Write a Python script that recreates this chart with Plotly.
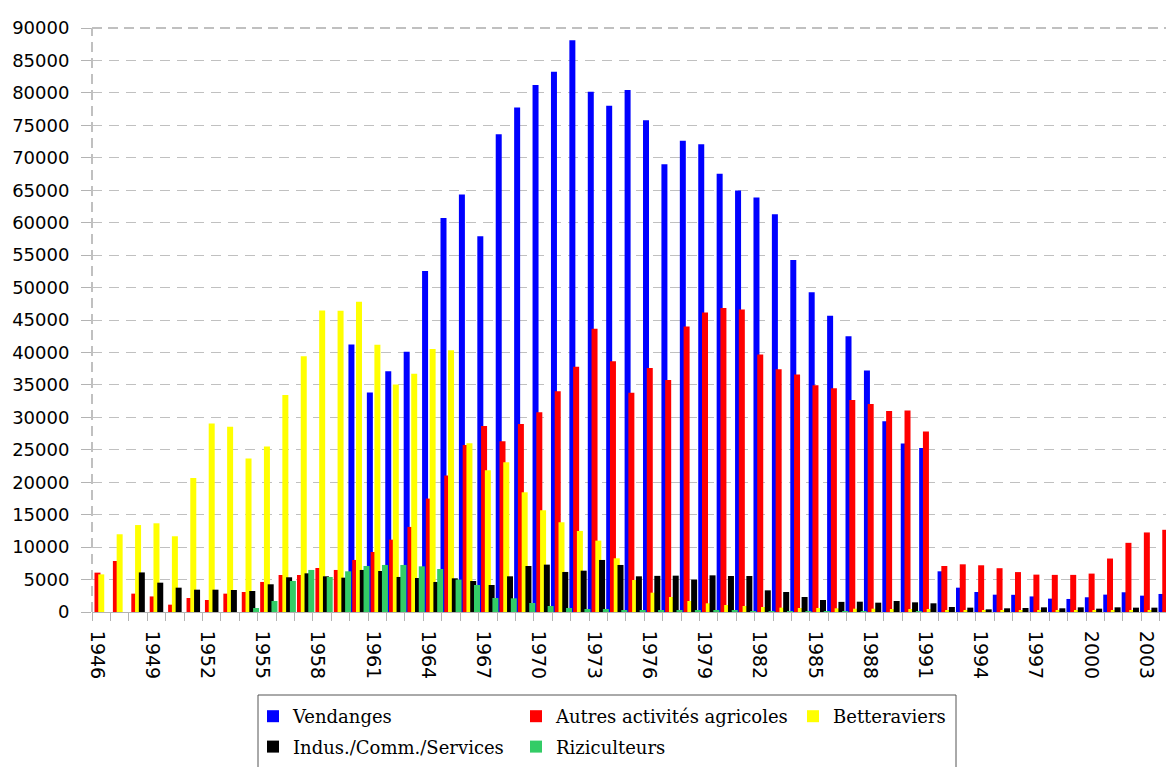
import plotly.graph_objects as go

years = list(range(1946, 2005))

vendanges = [0]*14 + [
    41220, 33820, 37110, 40090, 52550, 60730, 64330, 57900, 73640, 77760,
    81200, 83260, 88100, 80170, 78010, 80430, 75800, 69010, 72610, 72100,
    67520, 64950, 63870, 61300, 54250, 49260, 45660, 42510, 37210, 29400,
    25960, 25290, 6270, 3750, 3080, 2670, 2650, 2400, 2060, 2010,
    2270, 2680, 3040, 2520, 2780]

autres = [
    6065, 7860, 2830, 2400, 1130, 2160, 1850, 2830, 3080, 4630,
    5700, 5700, 6780, 6480, 8020, 9250, 11150, 13110, 17480, 21020,
    25750, 28680, 26320, 28990, 30790, 34030, 37780, 43640, 38650, 33770,
    37620, 35770, 44000, 46160, 46860, 46630, 39680, 37420, 36600, 34950,
    34490, 32690, 32070, 30990, 31050, 27810, 7090, 7350, 7200, 6750,
    6150, 5760, 5720, 5720, 5920, 8240, 10660, 12260, 12670]

betteraviers = [
    5800, 11980, 13400, 13670, 11670, 20660, 29040, 28530, 23640, 25500,
    33460, 39420, 46470, 46410, 47800, 41170, 35050, 36700, 40550, 40350,
    26010, 21850, 23080, 18450, 15680, 13830, 12490, 11000, 8280, 4930,
    2980, 2310, 1700, 1340, 1080, 925, 770, 670, 620, 620,
    570, 510, 510, 460, 460, 460, 260, 260, 260, 200,
    200, 250, 240, 230, 230, 220, 220, 210, 200]

indus = [
    0, 0, 6100, 4520, 3750, 3440, 3440, 3390, 3240, 4270,
    5350, 5960, 5500, 5290, 6480, 6320, 5400, 5240, 4630, 5190,
    4780, 4160, 5500, 7090, 7300, 6170, 6370, 8020, 7250, 5500,
    5570, 5600, 4990, 5650, 5550, 5550, 3340, 3080, 2310, 1850,
    1560, 1590, 1440, 1700, 1490, 1340, 770, 670, 410, 570,
    620, 720, 570, 720, 515, 720, 670, 670, 600]

riziculteurs = [
    0, 0, 0, 0, 0, 0, 0, 0, 620, 1700,
    4780, 6480, 5400, 6270, 7090, 7250, 7250, 7040, 6630, 4990,
    4160, 2160, 2110, 1390, 925, 620, 460, 460, 310, 310,
    260, 260, 260, 260, 260, 150, 100, 150, 150, 150,
    120, 150, 0, 0, 150, 0, 0, 0, 0, 0,
    0, 0, 0, 0, 0, 0, 0, 0, 0]

label_years = list(range(1946, 2005, 3))
y_ticks = list(range(0, 90001, 5000))

series = [
    ("Vendanges", vendanges, "#0000ff", "legend"),
    ("Autres activités agricoles", autres, "#ff0000", "legend2"),
    ("Betteraviers", betteraviers, "#ffff00", "legend3"),
    ("Indus./Comm./Services", indus, "#000000", "legend"),
    ("Riziculteurs", riziculteurs, "#33cc66", "legend2"),
]

W, H = 1166, 767
ML, MR, MT, MB = 92, 0, 28, 155
PW = W - ML - MR
PH = H - MT - MB
px_per_unit = 18.41
bar_w = 6.0 / px_per_unit
step = 3.77 / px_per_unit
first_off = -10.5 / px_per_unit
label_shift = -4.5 / px_per_unit

fig = go.Figure()
for i, (name, vals, col, lg) in enumerate(series):
    fig.add_trace(go.Bar(
        x=years, y=vals, name=name,
        marker=dict(color=col, line=dict(width=0)),
        offset=first_off + i * step, width=bar_w,
        legend=lg, legendgroup=name,
    ))

x_end = 1945.5 + PW / px_per_unit

grid_col = "#c0c0c0"
axis_font = dict(family="DejaVu Sans", size=18, color="#000000")
xlab_font = dict(family="DejaVu Sans", size=19, color="#000000")
leg_font = dict(family="DejaVu Serif", size=18, color="#000000")

def pxx(px):
    return (px - ML) / PW

def pyy(py):
    return (H - MB - py) / PH

leg_common = dict(xref="paper", yref="paper",
                  xanchor="left", yanchor="top", orientation="v",
                  font=leg_font, bgcolor="rgba(0,0,0,0)", borderwidth=0,
                  tracegroupgap=4)

fig.update_layout(
    width=W, height=H,
    margin=dict(l=ML, r=MR, t=MT, b=MB, pad=0, autoexpand=False),
    paper_bgcolor="white", plot_bgcolor="white",
    barmode="overlay",
    font=axis_font,
    xaxis=dict(
        range=[1945.5, x_end],
        tickmode="array",
        tickvals=[y + label_shift for y in label_years],
        ticktext=[str(y) for y in label_years],
        tickangle=90,
        ticks="outside", ticklen=8, tickcolor="rgba(0,0,0,0)",
        ticklabelstandoff=6,
        showgrid=False, zeroline=False,
        showline=True, linecolor="#b3b3b3", linewidth=1,
        tickfont=xlab_font,
        minor=dict(tickmode="linear", tick0=1945.5, dtick=1, ticks="outside",
                   ticklen=8, tickcolor="#b3b3b3", tickwidth=1,
                   showgrid=False),
    ),
    yaxis=dict(
        range=[0, 90000],
        tickmode="array", tickvals=y_ticks,
        ticktext=[str(v) for v in y_ticks],
        showgrid=True, gridcolor=grid_col, gridwidth=1, griddash="10px,7px",
        zeroline=False, showline=False,
        ticks="outside", ticklen=10, tickcolor="#b3b3b3",
        ticklabelstandoff=8,
        tickfont=axis_font,
    ),
    legend=dict(x=pxx(253), y=pyy(698), **leg_common),
    legend2=dict(x=pxx(516), y=pyy(698), **leg_common),
    legend3=dict(x=pxx(793), y=pyy(698), **leg_common),
    showlegend=True,
)

shapes = [
    dict(type="rect", xref="paper", yref="paper",
         x0=pxx(258), x1=pxx(956), y0=pyy(695), y1=pyy(780),
         line=dict(color="#555555", width=1), fillcolor="rgba(0,0,0,0)"),
    dict(type="line", xref="paper", yref="paper", x0=0, x1=1, y0=1, y1=1,
         line=dict(color=grid_col, width=2, dash="10px,6px")),
    dict(type="line", xref="paper", yref="paper", x0=0, x1=0, y0=0, y1=1,
         line=dict(color=grid_col, width=2, dash="10px,6px")),
]
fig.update_layout(shapes=shapes)

fig.write_html("out.html",
               config={"displayModeBar": False},
               post_script="document.body.style.margin='0';document.body.style.overflow='hidden';")
